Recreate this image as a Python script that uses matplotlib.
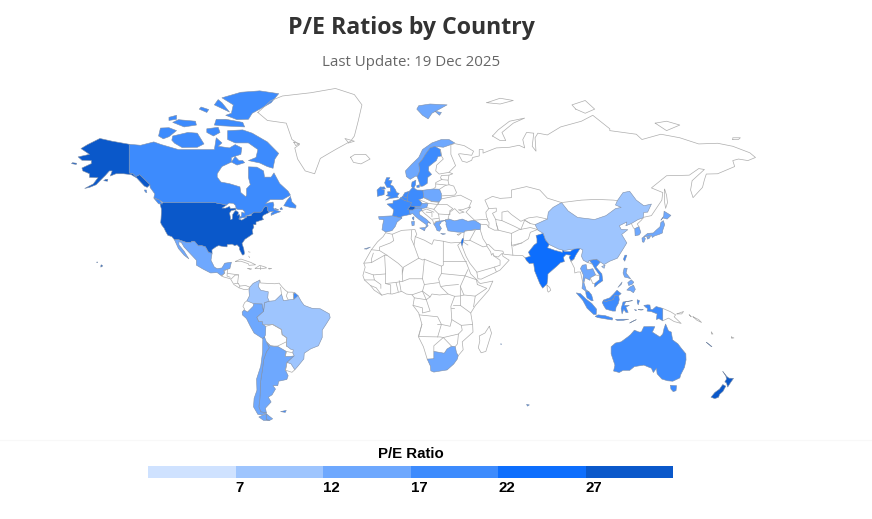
import numpy as np
import matplotlib.pyplot as plt

# P/E bins and colours of the legend
bin_edges = [2, 7, 12, 17, 22, 27, 32]
bin_colors = ["#cfe2ff", "#9ec5fe", "#6ea8fe", "#3d8bfd", "#0d6efd", "#0a58ca"]
tick_values = [7, 12, 17, 22, 27]

# estimated P/E per country, read from the fill colour
pe_ratio = {
    "USA": 28, "New Zealand": 29, "India": 24, "Israel": 24, "Switzerland": 28,
    "Canada": 20, "UK": 19, "Ireland": 19, "France": 20, "Germany": 19, "Netherlands": 20,
    "Belgium": 19, "Denmark": 21, "Sweden": 20, "Australia": 20, "Malaysia": 18,
    "Taiwan": 20, "Vietnam": 18, "Indonesia": 17.5,
    "Norway": 15, "Spain": 15, "Italy": 15, "Austria": 14, "Poland": 13, "Greece": 13,
    "Turkey": 13, "Mexico": 15, "Peru": 14, "Argentina": 15, "Chile": 15, "South Africa": 14,
    "Japan": 16, "South Korea": 15, "Thailand": 14, "Philippines": 12,
    "Brazil": 10, "China": 11, "Colombia": 10,
}

# country outlines as (lon, lat) rings, hand traced and rough
outlines = {}
outlines["USA"] = [
    [(-124.7,48.4),(-123,49),(-95.2,49),(-94.6,48.7),(-92.5,48.5),(-89.6,48),(-92,46.7),(-90,46.7),(-88,47.4),(-87.5,46.5),(-85,46.7),(-84.5,46.4),(-84.7,46),(-87,45.7),(-88,44.6),(-87.6,43),(-87.5,41.7),(-86.5,42),(-86.3,44),(-85.5,45),(-84.7,45.7),(-83.4,45),(-83.4,44),(-83.9,43.7),(-82.6,43.9),(-82.5,42.7),(-83.1,42),(-81.5,41.5),(-79,42.8),(-79,43.3),(-76.5,43.5),(-76.2,44.2),(-75,45),(-71.5,45),(-70.8,45.4),(-70,46.7),(-69.2,47.4),(-68.3,47.3),(-67.8,47),(-67.8,45.7),(-67,44.9),(-68.5,44.3),(-70.2,43.6),(-70.7,42.7),(-70,41.8),(-71.5,41.4),(-74,40.7),(-74,39.5),(-75.5,39.5),(-75.1,38.4),(-76,37),(-75.6,35.3),(-77.9,33.9),(-79.9,32.7),(-81.4,30.7),(-80.5,28.3),(-80.1,26),(-80.4,25.2),(-81.2,25.1),(-81.8,26.2),(-82.7,27.8),(-82.8,29),(-84,30.1),(-85.3,29.7),(-86.5,30.4),(-89.2,30.3),(-89.3,29.1),(-91,29.2),(-93.8,29.7),(-95,29.2),(-97.3,27.7),(-97.2,25.9),(-99.1,26.4),(-100.7,29.1),(-102.7,29.7),(-104.5,29.6),(-106.5,31.8),(-108.2,31.8),(-108.2,31.3),(-111,31.3),(-114.8,32.5),(-117.1,32.5),(-118.5,34),(-120.6,34.6),(-121.9,36.6),(-122.5,37.8),(-123.8,39.3),(-124.4,40.4),(-124.2,42),(-124,44.8),(-124,46.3)],
    [(-141,69.6),(-141,60.3),(-139,60),(-137.5,59),(-135.5,59.7),(-133.5,58.4),(-130,56),(-131.5,55),(-133,55.5),(-135,57),(-137,58.5),(-140,59.7),(-144,60),(-148,60),(-151,59.2),(-150,61),(-151.5,61),(-153.5,59.5),(-156,57.8),(-158.5,56),(-162,55),(-164.5,54.6),(-160,56.3),(-157.5,58.6),(-162,58.7),(-162,60),(-165.5,61),(-166,62),(-161,63.5),(-161,64.5),(-166,64.6),(-168,65.7),(-162,66.5),(-166.5,68.3),(-163,69.5),(-156.5,71.3),(-150,70.5)],
    [(-154.5,57.5),(-152.5,57.3),(-152.3,58),(-153.5,58)],
    [(-171.5,63.5),(-169,63.2),(-168.8,63.6),(-171,63.8)],
    [(-156,19),(-155,19.6),(-155.8,20.2),(-156,19.7)],
    [(-158.2,21.3),(-157.7,21.3),(-158,21.7)],
]
outlines["Canada"] = [
    [(-141,69.6),(-135,69.3),(-128,70.3),(-124,69.5),(-115,68),(-108,68),(-101,68),(-96,68),(-95,71.5),(-92,70),(-94,69),(-88,68.5),(-85,69.5),(-81.5,68.5),(-82,66.5),(-87,65.5),(-87,64),(-92,62.5),(-94.5,60),(-94.5,58.8),(-92.5,57),(-88,56.4),(-82.5,55.2),(-82,53),(-79.5,51.4),(-79,52),(-79,54.5),(-77,56),(-78,58.7),(-78,62.4),(-73.5,62.3),(-70,61),(-69.5,58.8),(-66,58.8),(-64.5,60.3),(-61.5,56.5),(-57,53.5),(-55.8,52),(-60,50.2),(-66.5,50.2),(-69,48.6),(-65,49.2),(-64.5,48),(-65,47),(-64,46),(-61,45.2),(-63.5,44.5),(-66,43.6),(-66,44.5),(-64.5,45.3),(-66,45.2),(-67,45.1),(-67.8,45.7),(-67.8,47),(-68.3,47.3),(-69.2,47.4),(-70,46.7),(-70.8,45.4),(-71.5,45),(-75,45),(-76.5,44.1),(-79.7,43.3),(-79,42.8),(-81,42.6),(-83,42.2),(-82.5,42.9),(-81.7,43.3),(-81.5,45),(-80,44.5),(-80,45.2),(-81,46),(-83.5,46.1),(-84.5,46.5),(-84.8,47.8),(-86,48.7),(-88.2,48.8),(-89.6,48),(-92.5,48.5),(-94.6,48.7),(-95.2,49),(-123,49),(-125,50),(-128,51),(-127.5,52.5),(-130,55),(-130,56),(-133.5,58.4),(-135.5,59.7),(-137.5,59),(-139,60),(-141,60.3)],
    [(-125.5,48.5),(-123.4,48.4),(-125,50),(-128,50.8)],
    [(-132.5,53.2),(-131.7,53),(-132,54),(-133,54)],
    [(-59.3,47.7),(-55.5,46.9),(-53,46.7),(-52.8,47.7),(-55,49.3),(-55.8,51.5),(-57.5,50)],
    [(-64,46.6),(-62,46),(-64,46.2)],
    [(-61,46),(-60,46.2),(-60.5,47),(-61.3,46.5)],
    [(-80,63.8),(-81,64.5),(-83,64.5),(-85,65.8),(-87,64),(-84,63)],
    [(-65,61.9),(-68,62.5),(-72,63.7),(-78,64.5),(-74,65.5),(-73,68),(-78,70),(-85,70),(-89,71),(-89,73.5),(-81,73.7),(-76,72.8),(-68,70.3),(-62,66.8),(-64,65)],
    [(-117,69.9),(-113,68.6),(-105,68.7),(-101.5,69.7),(-105,72.8),(-110,73),(-118,72),(-118.5,70.8)],
    [(-125.5,72),(-123,71.2),(-120,71.8),(-116,73.5),(-120,74.3),(-124.5,74.2)],
    [(-118,75.7),(-112,74.5),(-105.5,75),(-106,76),(-115,76.4)],
    [(-100,73),(-96.5,72),(-93,73),(-94,74.4),(-100,74)],
    [(-96,75),(-92,74.8),(-80,74.5),(-81,75.7),(-90,76.5),(-95,76.5)],
    [(-90,77.5),(-84,76.4),(-78,76.5),(-76,78),(-72,79),(-66,80.5),(-62,82.5),(-72,83.1),(-82,82.8),(-92,81.6),(-86,80),(-87,78)],
    [(-96,80),(-88,78.3),(-92,80.5),(-94,81.2)],
    [(-104,79),(-100,78.2),(-99,78.9),(-103,79.5)],
    [(-120,76.2),(-116,76.5),(-116,77.5),(-120,77)],
]
outlines["Mexico"] = [[(-117.1,32.5),(-114.8,32.5),(-111,31.3),(-108.2,31.3),(-108.2,31.8),(-106.5,31.8),(-104.5,29.6),(-102.7,29.7),(-100.7,29.1),(-99.1,26.4),(-97.2,25.9),(-97.8,22.5),(-96,19),(-94.5,18.2),(-92,18.6),(-90.5,21),(-87,21.5),(-87.8,18.3),(-89,17.9),(-91,17.2),(-90.5,16),(-92.2,14.5),(-94.5,16.2),(-98,16),(-102,18),(-105.5,20),(-105.5,22.5),(-109,26),(-112,29),(-113.5,31.3),(-114.8,31.5),(-114.7,30),(-112,27),(-109.5,23.2),(-112,25),(-115,28.3)]]
outlines["Brazil"] = [[(-73.5,-7.3),(-70,-4.2),(-69.5,0.5),(-67,1.2),(-64,1.5),(-60.5,4.9),(-59.5,1.5),(-56,2),(-54,2.2),(-51.8,4.2),(-50,1),(-48.5,-1),(-44.5,-2.5),(-40,-2.8),(-35.2,-5.5),(-34.8,-7.5),(-37,-11),(-39,-14),(-39,-17.8),(-41,-22),(-45,-23.5),(-48.5,-25.7),(-48.7,-28.5),(-52,-32.2),(-53.5,-33.7),(-55.5,-30.9),(-57.6,-30.2),(-53.8,-27),(-54.6,-25.5),(-54.3,-24),(-55.5,-23.8),(-58,-22),(-57.7,-18),(-60.2,-16.3),(-60.5,-13.7),(-65.3,-11),(-68,-11),(-70.5,-11),(-70.6,-9.5),(-72.5,-9.5)]]
outlines["Colombia"] = [[(-77.3,8.6),(-75.5,10.6),(-72,12.3),(-72.3,11),(-72.8,9),(-71.5,7),(-67.5,6.2),(-67.8,3),(-67,1.2),(-69.5,0.5),(-70,-4.2),(-70.8,-0.2),(-75.2,-0.1),(-78.8,1.4),(-77.5,4),(-77.7,7)]]
outlines["Peru"] = [[(-81.3,-4.5),(-80.3,-3.4),(-78.5,-4.5),(-75.5,-1.5),(-75.2,-0.1),(-70.8,-0.2),(-70,-4.2),(-73.5,-7.3),(-72.5,-9.5),(-70.6,-9.5),(-70.5,-11),(-68.8,-12),(-69,-16.5),(-69.5,-17.5),(-70.4,-18.4),(-75,-15.5),(-77,-12),(-79,-8),(-81.2,-6)]]
outlines["Chile"] = [
    [(-70.4,-18.4),(-69.5,-17.5),(-68.5,-20),(-67,-23),(-68.5,-25),(-70,-29),(-70.5,-33),(-71.2,-37),(-71.7,-40),(-71.8,-44),(-72,-47),(-72.5,-50),(-71.5,-52),(-68.5,-52.4),(-71,-53.2),(-73,-53),(-75.3,-50),(-75,-46.5),(-73.5,-43),(-73.7,-38),(-71.5,-32),(-70.5,-25)],
    [(-68.6,-52.7),(-68.6,-55),(-66.8,-55.3),(-70,-55.3),(-72.5,-54)],
]
outlines["Argentina"] = [
    [(-68.5,-20),(-66.3,-22),(-64.5,-22.2),(-62.7,-22.2),(-58,-24.8),(-58.5,-27.3),(-55.8,-27.3),(-53.8,-27),(-57.6,-30.2),(-58.4,-33.9),(-57,-36.5),(-57.7,-38.2),(-62,-39),(-62.5,-41),(-65,-41),(-63.7,-42.5),(-65.5,-45),(-67.5,-46),(-66,-48),(-69,-50.5),(-68.5,-52.4),(-71.5,-52),(-72.5,-50),(-72,-47),(-71.8,-44),(-71.7,-40),(-71.2,-37),(-70.5,-33),(-70,-29),(-68.5,-25),(-67,-23)],
    [(-68.6,-52.7),(-65.2,-54.7),(-66.8,-55.3),(-68.6,-55)],
]
outlines["UK"] = [
    [(-5.5,50),(-3,50.7),(1.3,51.1),(0.7,51.6),(1.7,52.7),(0.3,53),(-0.2,54),(-1.6,55.5),(-3,56),(-2,57.5),(-4,57.7),(-3.2,58.6),(-5,58.6),(-6,56.7),(-4.8,55),(-3,54.9),(-3,53.4),(-4.5,53.3),(-4.2,52.3),(-5.2,51.8),(-3,51.4)],
    [(-7.5,54.3),(-5.6,54.4),(-6.2,55.2),(-7.4,55.1)],
    [(-61,-51.9),(-58,-51.4),(-58.5,-52.2)],
]
outlines["Ireland"] = [[(-6.2,53.5),(-6.3,52.2),(-9.8,51.5),(-10,54),(-8.2,55.2),(-7.4,55.1),(-7.5,54.3),(-6.2,54)]]
outlines["France"] = [
    [(-1.8,43.4),(-1.2,46),(-4.7,48.4),(-1.6,48.7),(-1.5,49.7),(1.5,50.2),(2.5,51),(4.2,50),(6.1,49.5),(8.2,49),(7.6,47.6),(6.1,46.2),(7,45.9),(7.5,44),(3,43.2),(3.1,42.4)],
    [(8.6,42.2),(9.4,41.5),(9.5,43),(8.7,42.7)],
    [(-54,2.2),(-52.5,2.2),(-51.8,4.2),(-53.5,5.7),(-54.3,5)],
    [(164,-20.2),(166.5,-22.3),(167,-22.4),(165,-20.9)],
    [(69,-49),(70.5,-49.2),(69.5,-49.7)],
    [(55.3,-21),(55.8,-21.1),(55.5,-21.4)],
]
outlines["Spain"] = [
    [(-9.2,43.1),(-1.8,43.4),(3.1,42.4),(0.5,40.6),(-0.4,38.7),(-2.1,36.8),(-5.4,36.1),(-7.4,37.2),(-7,39.5),(-6.5,41.7),(-8.9,41.9)],
    [(-16.8,28.1),(-13.5,29),(-15.5,28)],
]
outlines["Germany"] = [[(7,53.5),(8.7,54.9),(9.5,54.8),(11,54),(14.2,53.9),(14.7,51),(12.2,50.2),(13.8,48.7),(13,47.5),(9.6,47.4),(7.6,47.6),(8.2,49),(6.1,49.5),(6.1,50.1),(5.9,50.8),(6,51.8)]]
outlines["Netherlands"] = [[(3.4,51.4),(4.7,53),(7,53.5),(6,51.8),(5.9,50.8),(4.2,51.3)]]
outlines["Belgium"] = [[(2.5,51),(3.4,51.4),(4.2,51.3),(5.9,50.8),(6.1,50.1),(6.1,49.5),(4.2,50)]]
outlines["Denmark"] = [
    [(8.1,55.5),(8.5,57),(10.5,57.7),(10.3,56),(9.5,54.8),(8.7,54.9)],
    [(11,55.7),(12.5,56),(12.3,55),(11,55)],
]
outlines["Switzerland"] = [[(6.1,46.2),(7.6,47.6),(9.6,47.4),(10.4,46.7),(9,45.9),(7,45.9)]]
outlines["Austria"] = [[(9.6,47.4),(13,47.5),(13.8,48.7),(17,48.7),(16.2,46.9),(13.7,46.5),(12.2,46.8),(10.4,46.7)]]
outlines["Italy"] = [
    [(7.5,44),(7,45.9),(9,45.9),(10.4,46.7),(12.2,46.8),(13.7,46.5),(13.7,45.6),(12.3,45.3),(12.4,44),(16,41.9),(18.4,40),(17,40.5),(16.5,39.7),(17,39),(15.7,38),(16,39.5),(12.2,41.8),(10.5,43),(8.8,44.4)],
    [(12.5,38),(15.6,38.2),(15.1,36.7)],
    [(8.2,40.9),(9.7,41),(9.6,39.2),(8.5,39)],
]
outlines["Poland"] = [[(14.2,53.9),(19.5,54.4),(23,54.3),(24,52.5),(24,50.5),(22.7,49.2),(19,49.4),(14.7,51)]]
outlines["Norway"] = [
    [(5,61),(5.5,59),(7.5,58),(10.5,59.2),(11.2,59),(12.5,61),(12,63.5),(14,65),(15.5,66.5),(18,68.5),(20.5,69),(25,68.7),(29,69.5),(31,70),(28,71),(24,71),(19,70),(14,68),(12,65.5),(8.5,63.4)],
    [(11,79),(14,77.5),(17,76.6),(19,78),(21,78.5),(27,80),(18,80.2),(12,79.8)],
    [(20.5,78.5),(23,77.5),(24,78.2)],
]
outlines["Sweden"] = [[(11.2,59),(13,55.4),(14.3,55.5),(16.5,56.5),(16.8,58.7),(18.8,59.8),(17.2,61),(17.3,62.5),(21.3,64.5),(22.2,65.8),(24,66),(23.5,68),(20.5,69),(18,68.5),(15.5,66.5),(14,65),(12,63.5),(12.5,61)]]
outlines["Greece"] = [
    [(20,39.7),(21.5,40.9),(26.3,41.5),(24,40.8),(23.5,40),(22.8,39.5),(24,37.8),(23,36.5),(21.7,36.8),(21,38.3)],
    [(23.6,35.5),(26.2,35.3),(24.8,34.95)],
]
outlines["Turkey"] = [[(26.2,41.7),(28,42),(31,41.2),(35,42),(38,41),(41.5,41.5),(44.8,39.7),(44.5,37.2),(42,37.2),(36.5,36.6),(36,36),(32.5,36.1),(30.5,36.3),(27.5,36.7),(26.4,39.5),(26.5,40.5),(26,41)]]
outlines["Israel"] = [[(34.3,31.3),(34.9,29.5),(35.5,31.5),(35.7,33.2),(35.1,33.1)]]
outlines["South Africa"] = [[(16.5,-28.6),(20,-28.4),(20,-24.8),(23,-25.3),(25.5,-25.7),(27,-23.6),(29.4,-22.2),(31.3,-22.4),(32,-25.5),(32.9,-26.9),(32.4,-28.6),(30.5,-31),(27,-33.8),(25.5,-34),(20,-34.8),(18.4,-34.2),(18.2,-32)]]
outlines["India"] = [[(74,34.5),(77.8,35.5),(79,32.5),(81,30.2),(80,28.7),(84,27.4),(88,26.4),(88.2,27.8),(89,26.8),(92,26.8),(95.5,29),(97.3,28.3),(95,25),(94,23),(92.5,22),(91.5,24),(92.3,25),(89.8,25.3),(88.5,24),(89,21.8),(87,21.3),(85,19.5),(80.3,15.5),(80.2,13),(79.8,10.3),(77.5,8.1),(76,10.5),(73.3,17),(72.8,20.5),(72.5,21),(70.5,20.8),(69,22.3),(68.2,23.7),(71,24.5),(70,26.5),(73,30),(74.5,31),(74.5,33)]]
outlines["China"] = [
    [(73.5,39.5),(80,42),(80.5,45),(83,47),(87.5,49),(91,45.5),(96,42.7),(105,41.8),(111,43.5),(116,46.5),(119,47),(116,48),(117,49.8),(120,53),(123.5,53.5),(127,50),(131,47.7),(135,48.4),(133,45),(131,44.9),(130.6,42.5),(128,41.8),(124.4,40),(121.5,39),(122,40.7),(118,39),(119,37.4),(122.5,37.2),(119.3,35),(122,31),(120,28),(117,23.5),(113,22),(110,20.3),(108,21.6),(106,23),(102,22.4),(101.5,21.2),(99,22.5),(98,24.5),(98.7,27.6),(97.3,28.3),(92,27.8),(89,27.3),(86,28),(81,30.2),(79,32.5),(77.8,35.5),(75,37)],
    [(108.7,19.3),(110.5,20),(110,18.4)],
]
outlines["Taiwan"] = [[(120.2,23),(121,25),(122,25),(120.9,22)]]
outlines["South Korea"] = [[(126.2,37.7),(128.4,38.6),(129.4,36),(128.5,34.8),(126.4,34.4)]]
outlines["Japan"] = [
    [(130.9,34),(133,35.5),(136,35.7),(137.5,37),(139.5,38.5),(140,40.5),(141.3,41.3),(142,39.5),(141,37),(140.8,35.7),(139,35),(136.8,34.4),(135.5,33.6),(135,34.6),(132,34)],
    [(140,41.5),(141.5,43.3),(141.7,45.4),(145.3,43.6),(143.3,42),(141,42.5)],
    [(130,33.3),(131,33.9),(131.8,33),(131,31.3),(130.2,31.5)],
    [(132.6,33.8),(134.5,34.2),(134,33.3),(133,32.8)],
]
outlines["Thailand"] = [[(97.5,18.3),(98.5,20),(100.5,20.3),(101,17.6),(104,18.2),(105.5,15),(102.7,13.5),(102.5,12.2),(101,13),(100,13.5),(99.3,11),(100.5,7.2),(102,6.2),(100.3,6.5),(98.3,8),(98.7,11),(99,15)]]
outlines["Vietnam"] = [[(102.2,22.4),(106,23),(108,21.6),(105.7,19),(108.8,15.5),(109.3,12),(106.8,10.3),(105,8.7),(105,10.5),(107.5,12.5),(107.5,15),(105,18.5),(103.8,20.5)]]
outlines["Malaysia"] = [
    [(100.3,6.5),(102,6.2),(103.4,4.5),(104.2,1.5),(103.4,1.4),(101,3),(100.4,5)],
    [(109.7,1.8),(111.3,2.4),(113,3),(115,5),(116.8,7),(119,5.2),(117.7,4.2),(115.7,4.3),(114.8,2),(112.5,1.5),(110.5,0.9)],
]
outlines["Philippines"] = [
    [(120.6,18.5),(122.2,18.4),(121.6,16),(124,13),(122.5,13.5),(120.8,13.9),(120,16)],
    [(122,7.1),(123.5,8.6),(125.5,9.7),(126.5,7.5),(125.5,5.7),(124,6.7)],
    [(117.3,8.5),(119.5,11.3),(119,10)],
    [(122.5,11),(124.3,12.5),(125.7,11.2),(124.8,10.1),(123,9.5)],
]
outlines["Indonesia"] = [
    [(95.3,5.6),(97.5,5.2),(100.5,2.3),(103.5,0),(106,-3),(105.8,-5.8),(104.5,-5.8),(101,-2.5),(98.7,1.7)],
    [(105.3,-6.8),(106.8,-6),(110.5,-6.4),(114.5,-7.7),(114.3,-8.7),(110,-8),(106.5,-7.4)],
    [(109,0.5),(109.7,1.8),(110.5,0.9),(112.5,1.5),(114.8,2),(115.7,4.3),(117.7,4.2),(118,2),(117.5,0),(116.3,-2),(116,-4),(114.5,-4),(111,-3),(110,-1.5)],
    [(119.5,-5.5),(120.4,-3),(121.5,-4.7),(122.7,-4.7),(121.5,-1.9),(123.3,-1),(120.5,-1),(121.5,1),(125,1.5),(120,0.8),(119,-2.7)],
    [(116,-8.4),(119,-8.3),(123,-8.3),(120,-8.9),(117,-9)],
    [(123.5,-10.3),(127,-8.5),(125,-9.4)],
    [(127.5,2),(128.7,1.5),(128,-0.7),(127.5,0.5)],
    [(126,-3.2),(127.2,-3.5),(126.7,-3.8)],
    [(128,-3.2),(130.7,-3.3),(129.5,-3.5)],
    [(131,-1),(133,-0.7),(134.2,-0.8),(134.5,-3),(135.5,-3.3),(137.5,-1.6),(141,-2.6),(141,-9.1),(139,-8),(137.6,-8.4),(138,-5.5),(135,-4.3),(132.7,-4),(133,-2.7),(132,-2)],
]
outlines["Australia"] = [
    [(113.7,-22.5),(116,-20.6),(119,-20),(122.5,-17.5),(124,-16.3),(126,-14),(128.5,-15),(129.7,-14.9),(131,-12.2),(135,-12.1),(136.8,-12.2),(135.5,-15),(139.5,-17.5),(141,-16),(141.7,-13),(142.5,-10.8),(144,-14.3),(145.5,-15),(146.2,-19),(149,-21),(151,-23.5),(153.2,-26),(153.3,-29),(152.5,-32.5),(150.5,-36),(150,-37.5),(146.3,-39),(143.5,-38.8),(140.5,-38),(138,-35.6),(137.7,-33),(136,-35),(135,-33),(131,-31.5),(126,-32.2),(123.5,-34),(120,-34),(118,-35),(115,-34.3),(115.7,-31.5),(113.7,-26)],
    [(145,-40.8),(148.3,-41),(148,-43.2),(146.5,-43.6),(145.3,-42.5)],
]
outlines["New Zealand"] = [
    [(172.7,-34.5),(174.8,-36.8),(176,-37.6),(178.4,-37.7),(177,-39.4),(175.3,-41.6),(174.7,-39.8),(173.8,-39.3),(174.7,-38),(174.3,-36.5)],
    [(172.7,-40.5),(174.3,-41.2),(172.8,-43.5),(171,-44.8),(170.5,-46),(168.5,-46.6),(166.5,-46),(168.5,-44),(171,-42.5)],
]

# countries without data, only thin lines
no_data_lines = [
    # Greenland
    [(-73,78.2),(-66,81),(-60,82),(-45,82.7),(-32,83.6),(-22,82.3),(-18,80),(-20,76),(-22,72),(-24,70.5),(-32,68),(-40,65.2),(-43,60),(-48,61),(-52,65),(-53.5,68.5),(-51,69.5),(-55,71),(-58,75.5),(-68,76.2),(-73,78.2)],
    [(-25,70),(-22,70.5),(-27,71.3),(-25,70)],
    [(-54,70.2),(-51,69.8),(-53,69.2),(-54,70.2)],
    # Iceland
    [(-24,65.6),(-22,66.4),(-16,66.5),(-13.7,65),(-18.5,63.4),(-22.5,63.9),(-24,65.6)],
    # Caribbean
    [(-84.9,21.9),(-82,23.1),(-77,21.5),(-74.2,20.2),(-77.7,19.9),(-78,20.7),(-82,22),(-84.9,21.9)],
    [(-74.4,18.4),(-72,19.9),(-69,19),(-68.4,18.6),(-71,18.2),(-74.4,18.4)],[(-71.7,19.7),(-71.7,18.2)],
    [(-78.3,18.3),(-76.3,18.1),(-77,17.8),(-78.3,18.3)],
    [(-67.2,18.4),(-65.7,18.3),(-67.1,18),(-67.2,18.4)],
    [(-78,26.7),(-77.2,26.5)],[(-77.8,24.5),(-77.4,23.8)],
    # Central America
    [(-92.2,14.5),(-90.5,16),(-91,17.2),(-89,17.9),(-89.2,15.9),(-88.3,15.7),(-83.2,15),(-83.7,11),(-82.5,9.2),(-79.5,9.5),(-77.3,8.6),(-78,7.5),(-80.4,7.4),(-83,8.3),(-85.7,10),(-87.5,13),(-91,13.9),(-92.2,14.5)],
    [(-89.2,15.9),(-89.3,14.4),(-87.7,13.8)],[(-87,13),(-85,14.9),(-83.2,15)],[(-85.7,11),(-83.7,11)],[(-83,8.3),(-82.5,9.2)],
    # South America
    [(-72,12.3),(-71.5,10.8),(-68,10.6),(-64,10.4),(-61.8,10.7),(-60,8.5),(-58.5,7),(-57.2,6),(-55,6),(-54,5.8),(-53.5,5.7),(-54.3,5),(-54,2.2)],
    [(-60.5,4.9),(-61,8.5)],[(-57.2,6),(-58,4),(-57,2)],[(-54.3,5),(-54,3.5)],
    [(-78.8,1.4),(-80,0.5),(-80.9,-1.5),(-80,-3),(-80.3,-3.4)],
    [(-68.8,-12),(-65.3,-11),(-60.5,-13.7),(-60.2,-16.3),(-57.7,-18),(-58,-20),(-62.7,-22.2),(-64.5,-22.2),(-66.3,-22),(-68.5,-20)],
    [(-58,-20),(-58,-22)],[(-58.5,-27.3),(-58,-24.8),(-54.6,-25.5)],
    [(-58.4,-33.9),(-55,-34.9),(-53.5,-33.7)],[(-58.4,-33.9),(-57.6,-30.2)],
    # Finland and the Baltic side
    [(23.5,68),(24,66),(25,65),(21.5,63),(21,61),(22.8,59.9),(28,60.5),(31.5,62.8),(29,66.5),(29,69.5)],
    [(28,60.5),(30,60),(28,59.5),(24,59.4),(23.5,58.5),(24.3,58),(21,56.8),(21,55.2),(19.8,54.4)],
    [(28,59.5),(27.5,57.5),(28,56),(30.5,55.5),(32,53),(31,52),(24,51.7)],
    [(23,54.3),(26,55.7),(28,56)],[(21,56.3),(26.5,55.9)],[(24,57.9),(27.5,57.7)],
    [(24,50.5),(34,52),(40,49.7),(38.5,47),(35,46),(33,46),(36,45),(33.5,44.5),(31,46.5),(28.5,45)],
    [(22.7,49.2),(22,48.2),(27,48.2),(30,46.5),(28.2,45.4)],
    [(14.7,51),(19,49.4),(22.7,49.2),(22,48.2),(17,48.7),(12.2,50.2)],
    [(16.2,46.9),(20,46.2),(22,48.2)],[(20,46.2),(22.5,44.2),(28.5,43.9),(28.5,45),(27.5,42.3),(28,42),(26.2,41.7)],
    [(22.5,44.2),(23,41.2),(21,40.9),(20,39.7),(19.4,41.5),(15,44.5),(13.7,45.6),(16.2,46.3),(20,45)],
    [(19.4,42),(22.5,42.3)],[(16,45),(19,44.8),(19,43)],
    # Caucasus, Iran and Central Asia
    [(38.5,47),(39.5,47.2),(37,45),(41.5,41.5),(46,41.8),(48,41.8),(49.2,40.3),(49,38.3),(52,37),(54,37),(53,40),(52.7,41.8),(51,44.5),(53,45.3),(53,46.7),(49,46.5),(47.5,45),(47.8,43),(48.5,41.8)],
    [(44.8,39.7),(48,39.5),(49,38.3)],
    [(49,46.5),(47,50),(51,51.5),(55,50.7),(61,51),(61,54),(69,55.3),(76,54),(80,50.8),(87.5,49)],
    [(87.5,49),(98,50),(106,50.3),(115,50),(117,49.8)],
    [(53,40),(54,37),(61,35.5),(61,31.4),(61.8,25),(57,25.5),(56.5,27),(52,27.5),(49,30.2),(48,30.2),(46,33),(44.5,37.2)],
    [(61,35.5),(65,37.2),(71,38.2),(74.8,37.3),(71,36),(70,33),(66.5,31),(61,29.8),(61,31.4)],
    [(61.8,25),(67,24.8),(68.2,23.7)],[(66.5,31),(62,29.5)],[(73.5,39.5),(71,40),(68,41.5),(66,37.3)],
    [(52.7,41.8),(56,41.3),(56,45),(59,45.5),(61,44),(66,41),(70,42.5),(74.5,43),(80,42)],
    [(56,41.3),(62,39),(66,37.3)],[(68,41.5),(71,40)],
    # Russia coast
    [(29,69.5),(31,69.8),(36,69.2),(41,67.5),(40,66.2),(34,66.7),(33,66.6),(35,64.3),(37.5,63.9),(40,64.6),(40.5,65.5),(44,66),(44,68),(46,68),(46,66.9),(53,68.5),(60,68.7),(65,69.3),(68,68.5),(67,71),(69,73),(72.8,72.8),(72,69),(74,67.5),(73.5,71.5),(75,72.8),(80,72.3),(87,74.5),(98,76),(104,77.5),(113,74),(113,73.5),(127,72.5),(130,71),(140,72.5),(150,71.5),(160,69.7),(170,69.9),(178,69),(187,67),(190,65.5),(186,64.5),(181,65),(178,64.5),(179,62.5),(170,60),(164,59.9),(163,57.8),(162,55),(157,51),(155.7,54),(156.5,57.5),(163,61.5),(160,61.8),(155,59.5),(143,59.3),(135,54.8),(141,53),(140.5,50),(135,43.5),(131,42.8),(130.6,42.5)],
    [(51,72),(55,70.7),(58,70.7),(56,73),(62,75.5),(68,76.8),(60,76),(54,73.7),(51,72)],
    [(95,79),(100,78),(105,79),(100,81),(93,80),(95,79)],
    [(137,75.5),(143,73.5),(150,75),(143,76),(137,75.5)],[(178,71),(181,71),(182,71.5),(178,71.5),(178,71)],
    [(48,80.5),(55,80.2),(62,81),(55,81.5),(48,80.5)],
    [(142,54.3),(143,52),(143.5,49),(142.5,46.6),(142,49),(142,54.3)],
    # Korea north
    [(124.4,40),(125.5,38),(126.2,37.7)],[(128.4,38.6),(127.5,39.8),(129.7,41.5),(130.6,42.5)],
    # Myanmar, Laos, Cambodia edge lines
    [(92.5,22),(94.3,18.5),(94.5,16),(96,16.5),(97.5,16.5),(98.5,12),(99.3,11)],[(94,23),(92.5,22)],
    [(103.8,20.5),(101,21.5)],[(105.5,15),(107.5,14.5)],[(102.7,13.5),(104,10.5),(105,10.5)],
    # Sri Lanka, Madagascar
    [(79.8,9.7),(81.2,8.5),(81.8,7),(80.5,6),(80,6.8),(79.8,9.7)],
    [(49.3,-12),(50.5,-15.5),(47.5,-24.8),(45,-25.5),(43.5,-23),(44.3,-19.5),(44,-17),(47,-15.5),(49.3,-12)],
    # Papua New Guinea and the Pacific
    [(141,-2.6),(145,-4.3),(147.8,-6),(147,-7),(150.7,-10.5),(147,-9.5),(144,-7.7),(141,-9.1)],
    [(148.5,-5.5),(152,-4.2),(151,-5.5),(148.5,-5.5)],[(155,-6),(156,-7),(155,-6)],
    [(157,-7),(160,-8.5),(161.5,-10),(159,-8.8),(157,-7)],[(166.7,-15),(167.5,-16),(166.8,-16),(166.7,-15)],
    [(177.3,-17.5),(178.6,-18),(177.4,-18.2),(177.3,-17.5)],
    # Cyprus
    [(32.4,35),(34.5,35.6),(33,34.6),(32.4,35)],
    # Arabia
    [(35.7,33.2),(36,35.9)],[(36.5,36.6),(42,37.2)],[(39,32.3),(42,37.2)],[(39,32.3),(46,29.1),(48,29.5),(48,30.2)],
    [(34.9,29.5),(37,24.5),(39,21),(42.7,16.5),(43.3,13),(45,12.8),(52,16),(55,17.5),(59.8,22.5),(56.5,24.5),(56.2,26),(54,24.1),(51.6,24.7),(51.3,26),(50.5,25),(50,26.7),(48,29.5)],
    [(36,32),(39,32.3)],[(35.5,31.5),(38,30)],[(42.8,16.4),(52,19),(55,20),(55,22.5),(51.6,24.7)],[(52,19),(53,16.7)],
    # Africa coast
    [(-5.5,35.8),(-2,35.1),(3,36.9),(10,37.3),(11,35),(10.2,34),(15,32.3),(19,30.3),(20,32.5),(25,31.8),(29,31),(32.3,31.2),(34.3,31.3),(32.6,29.9),(35.5,24),(37.3,21),(39.5,15.5),(43.2,12),(43.3,11.5),(44.5,10.5),(51.2,11.8),(49,7),(42,-1),(39.5,-5),(40.5,-11),(40.7,-15),(35,-20),(35.5,-24),(32.9,-26.9)],
    [(16.5,-28.6),(14.5,-22.5),(11.8,-17.3),(13.7,-11),(12,-5),(9,-1),(9.7,3),(8.5,4.6),(5.5,5),(3,6.4),(-2,5),(-4.5,5.2),(-7.5,4.4),(-11.5,7),(-13.5,9.5),(-16.7,12.4),(-17.5,14.7),(-16.3,19),(-17,21),(-13,27.7),(-9.8,31.5),(-6.8,34),(-5.5,35.8)],
    # Africa borders
    [(-13,27.7),(-8.7,27.3),(-8.7,29),(-3,31),(-1.2,32.1),(-2,35.1)],
    [(-8.7,27.3),(-4.8,25),(1.2,20.9),(3.3,19),(3.3,15.4),(4,19),(12,23.5),(9.5,30),(8,33),(8.3,36.9)],
    [(9.5,30),(10.2,34)],[(12,23.5),(14.2,22.6),(15,23),(24,19.5),(24,15.7),(22.5,13),(23.5,9),(27.5,5),(31,3.8),(34,4),(35.9,4.5),(41.9,3.9),(41,-1.7)],
    [(25,31.8),(25,20),(24,19.5)],[(25,22),(37,22)],[(15,23),(14,13),(15,10),(14,6.5),(16,2),(18,3.5),(19,5),(23,4.5),(27.5,5)],
    [(24,15.7),(36.5,14.5),(38,17.7)],[(36.5,14.5),(34,9),(34,4)],[(36.5,14.5),(42.5,12.5)],[(24,9),(27,9.5),(33,10)],
    [(-17,21),(-13,21.3),(-13,23),(-12,26)],[(-13,21.3),(-6,25),(-4.8,25)],[(-16.3,16.5),(-12,15),(-5.5,15.5),(-6,25)],
    [(-16.7,12.4),(-11.4,12.4),(-12,15)],[(-13.5,9.5),(-10.5,8.3),(-7.5,4.4)],[(-11.4,12.4),(-8,10),(-8,8)],
    [(-5.5,15.5),(-5.5,10.5),(-2.8,9.8),(-2.8,5.2)],[(-5.5,10.5),(0,11.1),(3.6,11.7),(3.3,15.4)],[(0,11.1),(1.2,6.2)],[(1.7,12),(2.7,6.4)],
    [(3.6,11.7),(7,13),(14,13)],[(8.5,4.6),(14,6.5)],[(9.7,3),(16,2)],[(9,-1),(14,-2.3),(14,-5),(18,-4),(16,2)],
    [(12.2,-6),(22,-7),(24,-11),(28.6,-12),(29.5,-8.5),(29,-1.5),(31,3.8)],[(30,-1),(34,-1),(34,4)],[(34,-1),(39.5,-5)],
    [(29.5,-8.5),(34.5,-11.5),(40.5,-11)],[(13.7,-11),(12,-17.3),(23.5,-17.5),(25,-17.8),(33,-16),(35,-14),(34.5,-11.5)],
    [(22,-11),(24,-11),(22,-17.5)],[(25,-17.8),(29.4,-22.2)],[(33,-16),(32.5,-21),(31.3,-22.4)],[(20,-24.8),(20,-22),(25,-17.8)],
    [(35.9,4.5),(34,9)],[(41.9,3.9),(48,8),(43,10)],[(42.5,12.5),(43,10)],[(15,10),(22.5,11)],
    [(18,3.5),(14,6.5)],[(29,-2.5),(30.5,-2.5)],
]

countries = list(pe_ratio.keys())


def miller(lat):
    return 1.25 * np.log(np.tan(np.pi / 4 + 0.4 * np.radians(lat)))


def pick_color(value):
    idx = np.searchsorted(bin_edges, value, side="right") - 1
    return bin_colors[idx]


# map scale fitted on the reference: 1.892 px per degree, lon 0 at x=396, equator at y=303.5
fig = plt.figure(figsize=(8.72, 5.19), dpi=100)
ax = fig.add_axes([0, 0, 1, 1])
ax.set_xlim(-396 / 1.892, (872 - 396) / 1.892)
ax.set_ylim((303.5 - 519) / 108.4, 303.5 / 108.4)
ax.axis("off")

for line in no_data_lines:
    pts = np.array(line)
    ax.plot(pts[:, 0], miller(pts[:, 1]), color="#adadad", lw=0.5, solid_joinstyle="round")

for name in countries:
    for ring in outlines[name]:
        pts = np.array(ring)
        ax.fill(pts[:, 0], miller(pts[:, 1]), facecolor=pick_color(pe_ratio[name]),
                edgecolor="#7f8fa8", lw=0.4, joinstyle="round")

fig.text(411 / 872, 1 - 27.5 / 519, "P/E Ratios by Country", ha="center", va="center",
         fontsize=16.7, fontweight="bold", family="Open Sans", color="#333333")
fig.text(411 / 872, 1 - 62 / 519, "Last Update: 19 Dec 2025", ha="center", va="center",
         fontsize=10.8, family="Open Sans", color="#666666")
fig.add_artist(plt.Line2D([0, 1], [1 - 440 / 519, 1 - 440 / 519], color="#f8f8f8", lw=0.8))
fig.text(411 / 872, 1 - 454 / 519, "P/E Ratio", ha="center", va="center",
         fontsize=10.8, fontweight="bold", family="Liberation Sans", color="black")

# legend bar
cax = fig.add_axes([148 / 872, 1 - 478 / 519, (673 - 148) / 872, 12 / 519])
cax.barh([0] * 6, np.diff(bin_edges), left=bin_edges[:-1], height=1, color=bin_colors)
cax.set_xlim(bin_edges[0], bin_edges[-1])
cax.set_ylim(-0.5, 0.5)
cax.set_yticks([])
cax.set_xticks(tick_values)
cax.set_xticklabels(tick_values, fontsize=10.8, fontweight="bold", family="Liberation Sans", ha="left")
cax.tick_params(axis="x", length=0, pad=2)
for spine in cax.spines.values():
    spine.set_visible(False)

fig.savefig("out.png", dpi=100)
